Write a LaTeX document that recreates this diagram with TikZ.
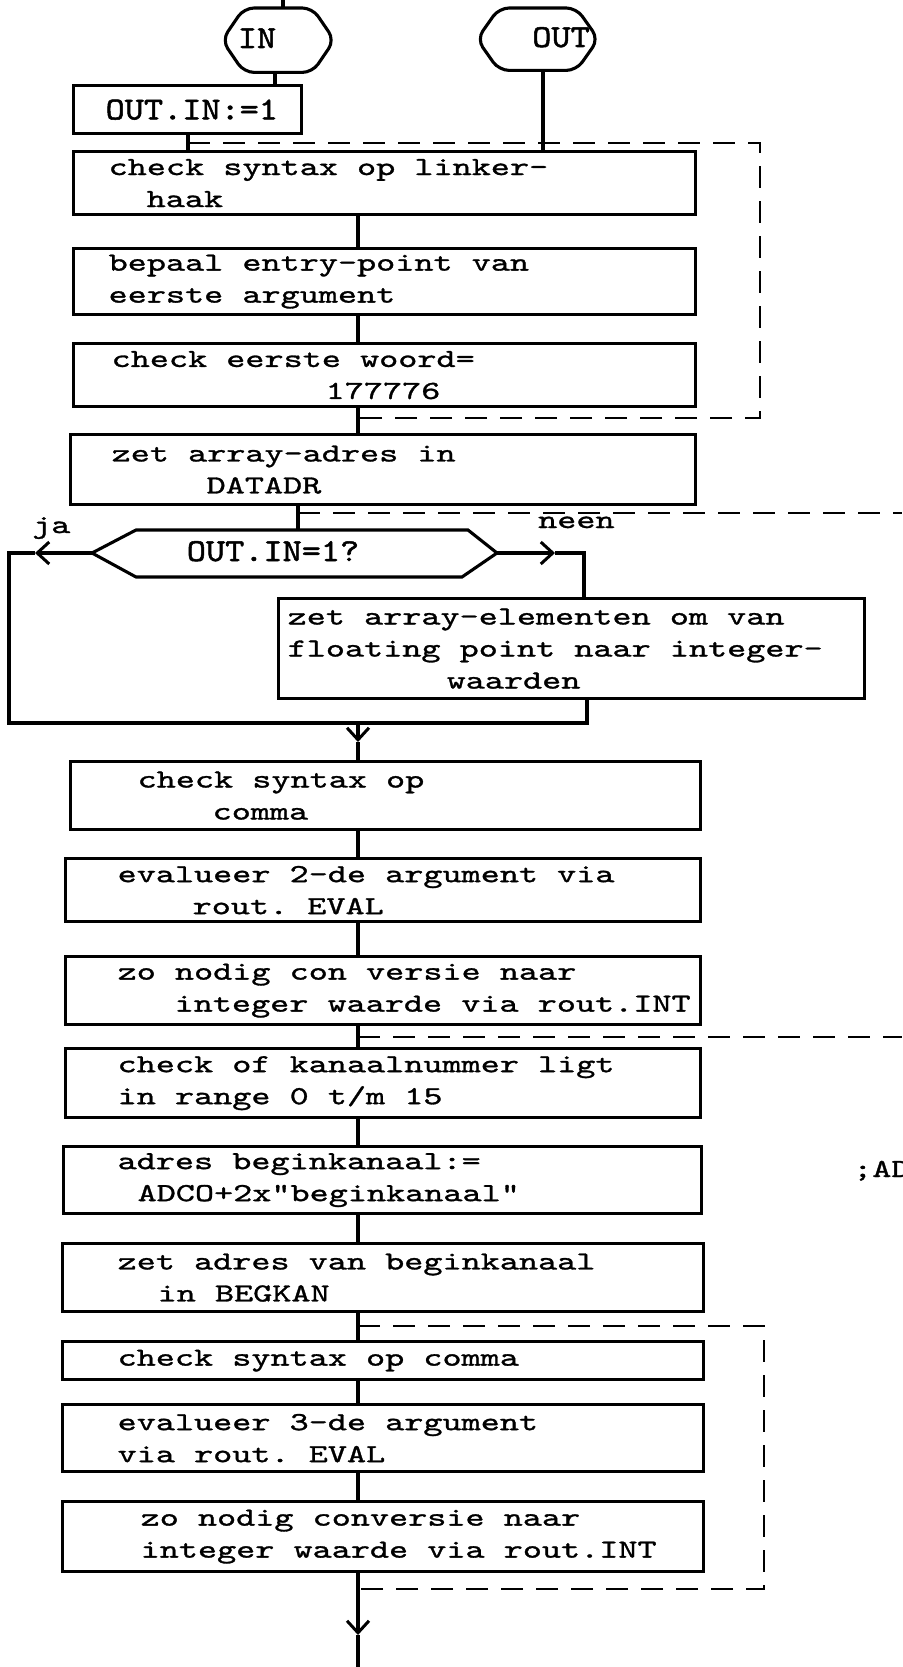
\documentclass[tikz,border=0pt]{standalone}
\usepackage{fontspec}
\newfontfamily\tw{lmmono10-regular.otf}[FakeStretch=1.4, FakeBold=1.2]
\newfontfamily\twb{lmmono10-regular.otf}[FakeStretch=1.14, FakeBold=1.6]
\newcommand\twfont{\tw\fontsize{26}{32}\selectfont}
\newcommand\twbfont{\twb\fontsize{32}{36}\selectfont}
\newcommand\ws{\spaceskip=19.11pt\xspaceskip=19.11pt\relax}
\usetikzlibrary{arrows.meta}
\begin{document}
\begin{tikzpicture}[x=1pt,y=-1pt,
  box/.style={draw, line width=3.3pt, inner xsep=0pt, inner ysep=0pt, align=left, anchor=north west, font=\twfont},
  conn/.style={line width=3.1pt},
  grp/.style={line width=1.7pt, dash pattern=on 22pt off 13pt},
  tip/.style={-{Straight Barb[length=12pt,width=22pt,line width=3pt]}},
  lbl/.style={inner sep=0pt, font=\twfont},
  big/.style={inner sep=0pt, font=\twbfont},
  term/.style={inner sep=0pt, anchor=north west}
]
\useasboundingbox (0,0) rectangle (902,1667);
\fill[white] (0,0) rectangle (902,1667);

% terminals
\node[term, minimum width=112, minimum height=64] (IN) at (222,8) {};
\draw[conn, rounded corners=10pt] ([xshift=22pt]IN.north west) -- ([xshift=-22pt]IN.north east) -- (IN.east) -- ([xshift=-22pt]IN.south east) -- ([xshift=22pt]IN.south west) -- (IN.west) -- cycle;
\node[big, anchor=base] (INt) at (257,48) {IN};
\node[term, minimum width=121, minimum height=62] (OUT) at (477,8) {};
\draw[conn, rounded corners=10pt] ([xshift=22pt]OUT.north west) -- ([xshift=-22pt]OUT.north east) -- (OUT.east) -- ([xshift=-22pt]OUT.south east) -- ([xshift=22pt]OUT.south west) -- (OUT.west) -- cycle;
\node[big, anchor=base] (OUTt) at (561,47) {OUT};

% boxes
\node[box, minimum width=228, minimum height=48, text width=228, font=\twbfont] (bOut) at (72,84) {\hspace*{32pt}OUT.IN:=1};
\node[box, minimum width=622, minimum height=63, text width=622] (b1) at (72,150) {\ws\hspace*{35pt}check syntax op linker-\\\hspace*{73pt}haak};
\node[box, minimum width=622, minimum height=66, text width=622] (b2) at (72,247) {\ws\hspace*{35pt}bepaal entry-point van\\\hspace*{35pt}eerste argument};
\node[box, minimum width=622, minimum height=63, text width=622] (b3) at (72,342) {\ws\hspace*{38pt}check eerste woord=\\\hspace*{252pt}177776};
\node[box, minimum width=625, minimum height=70, text width=625] (b4) at (69,433) {\ws\hspace*{41pt}zet array-adres in\\\hspace*{136pt}DATADR};
\node[box, minimum width=586, minimum height=100, text width=586] (b5) at (277,597) {\ws\hspace*{9pt}zet array-elementen om van\\\hspace*{9pt}floating point naar integer-\\\hspace*{168pt}waarden};
\node[box, minimum width=630, minimum height=68, text width=630] (b6) at (69,760) {\ws\hspace*{67pt}check syntax op\\\hspace*{142pt}comma};
\node[box, minimum width=635, minimum height=63, text width=635] (b7) at (64,857) {\ws\hspace*{52pt}evalueer 2-de argument via\\\hspace*{127pt}rout. EVAL};
\node[box, minimum width=635, minimum height=68, text width=635] (b8) at (64,955) {\ws\hspace*{52pt}zo nodig con versie naar\\\hspace*{109pt}integer waarde via rout.INT};
\node[box, minimum width=635, minimum height=69, text width=635] (b9) at (64,1047) {\ws\hspace*{52pt}check of kanaalnummer ligt\\\hspace*{52pt}in range 0 t/m 15};
\node[box, minimum width=638, minimum height=67, text width=638] (b10) at (62,1145) {\ws\hspace*{54pt}adres beginkanaal:=\\\hspace*{74pt}ADCO+2x"beginkanaal"};
\node[box, minimum width=641, minimum height=68, text width=641] (b11) at (61,1242) {\ws\hspace*{55pt}zet adres van beginkanaal\\\hspace*{95pt}in BEGKAN};
\node[box, minimum width=641, minimum height=38, text width=641] (b12) at (61,1340) {\ws\hspace*{55pt}check syntax op comma};
\node[box, minimum width=641, minimum height=67, text width=641] (b13) at (61,1403) {\ws\hspace*{55pt}evalueer 3-de argument\\\hspace*{55pt}via rout. EVAL};
\node[box, minimum width=641, minimum height=70, text width=641] (b14) at (61,1500) {\ws\hspace*{78pt}zo nodig conversie naar\\\hspace*{78pt}integer waarde via rout.INT};

% decision
\coordinate (hexL) at (92,553);
\coordinate (hexR) at (497,553);
\coordinate (hexT) at (298,530);
\draw[conn] (hexL) -- (136,530) -- (468,530) -- (hexR) -- (462,577) -- (136,577) -- cycle;
\node[big, anchor=base] (dec) at (273,561) {OUT.IN=1?};

% helper coordinates
\coordinate (top) at (283,0);
\coordinate (c1) at (275,0);
\coordinate (c2) at (543,0);
\coordinate (c3) at (188,0);
\coordinate (c4) at (298,0);
\coordinate (mx) at (358,0);

% connectors
\draw[conn] (IN.north -| top) -- (top);
\draw[conn] (IN.south -| c1) -- (bOut.north -| c1);
\draw[conn] (OUT.south -| c2) -- (b1.north -| c2);
\draw[conn] (bOut.south -| c3) -- (b1.north -| c3);
\draw[conn] (b1.south -| mx) -- (b2.north -| mx);
\draw[conn] (b2.south -| mx) -- (b3.north -| mx);
\draw[conn] (b3.south -| mx) -- (b4.north -| mx);
\draw[conn] (b4.south -| c4) -- (hexT);

\coordinate (jaTip) at (35,553);
\coordinate (lpTL) at (9,553);
\coordinate (lpBL) at (9,723);
\coordinate (lpBR) at (587,723);
\draw[conn, tip] (hexL) -- (jaTip);
\draw[conn] (jaTip) -- (lpTL) -- (lpBL) -- (lpBR) -- (b5.south -| lpBR);
\node[lbl, anchor=base west] (ja) at (32,533) {ja};

\coordinate (neTip) at (555,553);
\coordinate (neR) at (584,553);
\draw[conn, tip] (hexR) -- (neTip);
\draw[conn] (neTip) -- (neR) -- (b5.north -| neR);
\node[lbl, anchor=base west] (neen) at (538,528) {neen};

\coordinate (mTip) at (358,742);
\draw[conn, tip] (lpBL -| mx) -- (mTip);
\draw[conn] (mTip) -- (b6.north -| mx);
\draw[conn] (b6.south -| mx) -- (b7.north -| mx);
\draw[conn] (b7.south -| mx) -- (b8.north -| mx);
\draw[conn] (b8.south -| mx) -- (b9.north -| mx);
\draw[conn] (b9.south -| mx) -- (b10.north -| mx);
\draw[conn] (b10.south -| mx) -- (b11.north -| mx);
\draw[conn] (b11.south -| mx) -- (b12.north -| mx);
\draw[conn] (b12.south -| mx) -- (b13.north -| mx);
\draw[conn] (b13.south -| mx) -- (b14.north -| mx);
\coordinate (fTip) at (358,1635);
\coordinate (fEnd) at (358,1667);
\draw[conn, tip] (b14.south -| mx) -- (fTip);
\draw[conn] (fTip) -- (fEnd);

% dashed groupings
\draw[grp] (188,143) -- (760,143) -- (760,418) -- (358,418);
\draw[grp] (298,513) -- (902,513);
\draw[grp] (358,1037) -- (902,1037);
\draw[grp] (358,1326) -- (764,1326) -- (764,1589) -- (358,1589);

\node[lbl, anchor=base west] (ad) at (853,1177) {;AD};
\end{tikzpicture}
\end{document}
